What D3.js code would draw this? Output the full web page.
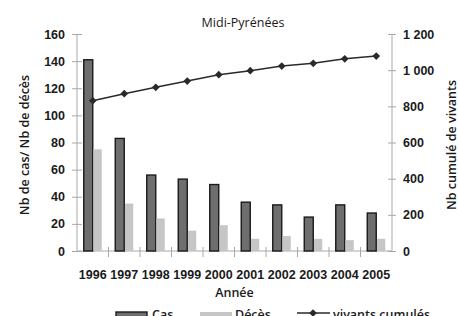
<!DOCTYPE html>
<html>
<head>
<meta charset="utf-8">
<script src="https://cdnjs.cloudflare.com/ajax/libs/d3/7.8.5/d3.min.js"></script>
<style>
  body { margin: 0; background: #fff; }
  svg { display: block; font-family: "Open Sans", sans-serif; font-weight: 600; }
  text { fill: #1a1a1a; }
</style>
</head>
<body>
<svg id="chart" width="458" height="316"></svg>
<script>
'use strict'

// data
var years = ['1996', '1997', '1998', '1999', '2000', '2001', '2002', '2003', '2004', '2005'];
var cas = [141, 83, 56, 53, 49, 36, 34, 25, 34, 28];
var deces = [75, 35, 24, 15, 19, 9, 11, 9, 8, 9];
var vivants = [831, 870, 905, 940, 975, 997, 1023, 1038, 1063, 1078];
var leftTicks = [0, 20, 40, 60, 80, 100, 120, 140, 160];
var rightTicks = [0, 200, 400, 600, 800, 1000, 1200];
var seriesNames = ['Cas', 'Décès'];

var svg = d3.select('#chart');
var plotLeft = 77, plotRight = 392, plotTop = 34, plotBottom = 251;

var x = d3.scaleBand()
  .domain(years)
  .range([plotLeft, plotRight]);

var xSub = d3.scaleBand()
  .domain(seriesNames)
  .range([0, x.bandwidth()])
  .paddingOuter(0.75)
  .paddingInner(0);

var y = d3.scaleLinear()
  .domain([0, 160])
  .range([plotBottom, plotTop]);

var y2 = d3.scaleLinear()
  .domain([0, 1200])
  .range([plotBottom, plotTop]);

var fmt = function(d){
  return d3.format(',')(d).replace(',', ' ');
};

// title
svg.append('text')
  .attr('x', 243)
  .attr('y', 27)
  .attr('text-anchor', 'middle')
  .style('font-size', '12.5px')
  .style('font-weight', 500)
  .text('Midi-Pyrénées');

// left axis
var gl = svg.append('g')
  .attr('transform', 'translate(' + plotLeft + ',0)')
  .call(d3.axisLeft(y).tickValues(leftTicks).tickSize(5).tickPadding(7));
gl.selectAll('.tick line').attr('x1', 5);
gl.select('.domain').attr('d', 'M0,' + plotTop + 'V' + plotBottom);

// right axis
var gr = svg.append('g')
  .attr('transform', 'translate(' + plotRight + ',0)')
  .call(d3.axisRight(y2).tickValues(rightTicks).tickFormat(fmt).tickSize(4).tickPadding(7));
gr.selectAll('.tick line').attr('x1', -4);
gr.select('.domain').attr('d', 'M0,' + plotTop + 'V' + plotBottom);

// bottom axis
var gb = svg.append('g')
  .attr('transform', 'translate(0,' + plotBottom + ')')
  .call(d3.axisBottom(x).tickSize(0).tickPadding(19));
gb.select('.domain').attr('d', 'M' + plotLeft + ',0H' + plotRight);

gb.selectAll('line.sep')
  .data(years.slice(1))
  .enter()
  .append('line')
  .attr('class', 'sep')
  .attr('x1', function(d){ return x(d); })
  .attr('x2', function(d){ return x(d); })
  .attr('y1', -4)
  .attr('y2', 6);

svg.selectAll('.domain, .tick line, line.sep')
  .attr('stroke', '#a8a8a8')
  .attr('stroke-width', 1);
svg.selectAll('.tick text')
  .style('font-size', '12.5px')
  .style('font-weight', 600)
  .attr('fill', '#1a1a1a');
gb.selectAll('.tick text').attr('dy', '0.71em');

// axis titles
svg.append('text')
  .attr('x', (plotLeft + plotRight) / 2)
  .attr('y', 297)
  .attr('text-anchor', 'middle')
  .style('font-size', '12.5px')
  .text('Année');

svg.append('text')
  .attr('transform', 'translate(29,145) rotate(-90)')
  .attr('text-anchor', 'middle')
  .style('font-size', '12.5px')
  .text('Nb de cas/ Nb de décès');

svg.append('text')
  .attr('transform', 'translate(456,145) rotate(-90)')
  .attr('text-anchor', 'middle')
  .style('font-size', '12.5px')
  .text('Nb cumulé de vivants');

// bars
svg.selectAll('rect.cas')
  .data(years)
  .enter()
  .append('rect')
  .attr('class', 'cas')
  .attr('x', function(d){ return x(d) + xSub('Cas'); })
  .attr('y', function(d, i){ return y(cas[i]); })
  .attr('width', xSub.bandwidth())
  .attr('height', function(d, i){ return y(0) - y(cas[i]); })
  .attr('fill', '#6e6e6e')
  .attr('stroke', '#1a1a1a')
  .attr('stroke-width', 1.4);

svg.selectAll('rect.deces')
  .data(years)
  .enter()
  .append('rect')
  .attr('class', 'deces')
  .attr('x', function(d){ return x(d) + xSub('Décès') + 0.7; })
  .attr('y', function(d, i){ return y(deces[i]); })
  .attr('width', xSub.bandwidth() - 0.7)
  .attr('height', function(d, i){ return y(0) - y(deces[i]); })
  .attr('fill', '#c6c6c6');

// line of vivants cumulés
var line = d3.line()
  .x(function(d, i){ return x(years[i]) + x.bandwidth() / 2; })
  .y(function(d){ return y2(d); });

svg.append('path')
  .datum(vivants)
  .attr('d', line)
  .attr('fill', 'none')
  .attr('stroke', '#2a2a2a')
  .attr('stroke-width', 1.5);

var diamond = d3.symbol().type(d3.symbolSquare).size(30);
svg.selectAll('path.pt')
  .data(vivants)
  .enter()
  .append('path')
  .attr('class', 'pt')
  .attr('d', diamond)
  .attr('transform', function(d, i){
    return 'translate(' + (x(years[i]) + x.bandwidth() / 2) + ',' + y2(d) + ') rotate(45)';
  })
  .attr('fill', '#2a2a2a');

// legend
var lg = svg.append('g').attr('class', 'legend');
lg.append('rect')
  .attr('x', 116).attr('y', 312).attr('width', 31).attr('height', 9)
  .attr('fill', '#6e6e6e').attr('stroke', '#1a1a1a').attr('stroke-width', 1.4);
lg.append('text').attr('x', 152).attr('y', 318.5).style('font-size', '12.5px').text('Cas');
lg.append('rect')
  .attr('x', 200).attr('y', 312).attr('width', 32).attr('height', 9)
  .attr('fill', '#c6c6c6');
lg.append('text').attr('x', 235).attr('y', 318.5).style('font-size', '12.5px').text('Décès');
lg.append('line')
  .attr('x1', 297).attr('x2', 330).attr('y1', 313).attr('y2', 313)
  .attr('stroke', '#2a2a2a').attr('stroke-width', 1.5);
lg.append('path')
  .attr('d', diamond)
  .attr('transform', 'translate(313,313) rotate(45)')
  .attr('fill', '#2a2a2a');
lg.append('text').attr('x', 333).attr('y', 318.5).style('font-size', '12.5px').text('vivants cumulés');
</script>
</body>
</html>
